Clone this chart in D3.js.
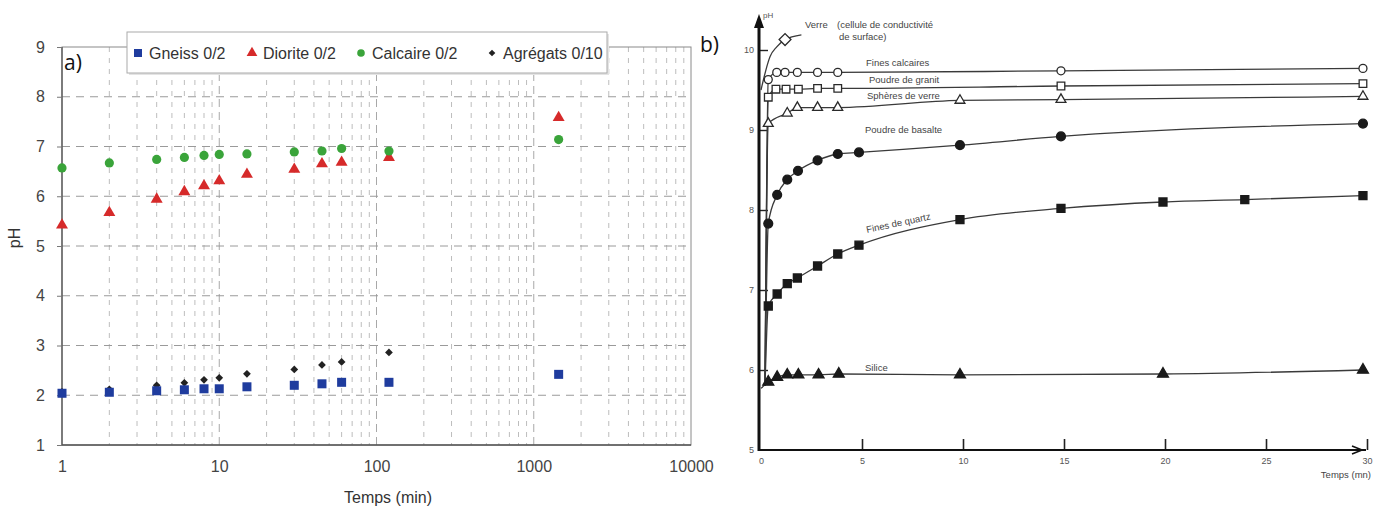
<!DOCTYPE html>
<html><head><meta charset="utf-8">
<script src="https://cdn.jsdelivr.net/npm/d3@7"></script>
<style>
body{margin:0;background:#fff;}
svg{display:block;}
</style></head>
<body>
<svg id="c" width="1381" height="510"></svg>
<script>
// ---------- Chart a) data ----------
const timesA = [1, 2, 4, 6, 8, 10, 15, 30, 45, 60, 120, 1440];
const gneiss = [2.04, 2.06, 2.09, 2.11, 2.13, 2.13, 2.17, 2.20, 2.23, 2.26, 2.26, 2.42];
const diorite = [5.42, 5.67, 5.94, 6.09, 6.21, 6.31, 6.44, 6.54, 6.65, 6.68, 6.78, 7.58];
const calcaire = [6.57, 6.67, 6.74, 6.78, 6.82, 6.84, 6.85, 6.89, 6.91, 6.96, 6.91, 7.14];
const agregats = [2.07, 2.12, 2.20, 2.25, 2.31, 2.35, 2.43, 2.52, 2.61, 2.67, 2.86, null];
const legendA = ["Gneiss 0/2", "Diorite 0/2", "Calcaire 0/2", "Agrégats 0/10"];
const xTicksA = [1, 10, 100, 1000, 10000];
const yTicksA = [1, 2, 3, 4, 5, 6, 7, 8, 9];

// ---------- Chart b) data ----------
const xTicksB = [0, 5, 10, 15, 20, 25, 30];
const yTicksB = [5, 6, 7, 8, 9, 10];
const originB = [0.2, 5.8];           // common start of the curves
const calcT = [0.36, 0.78, 1.19, 1.8, 2.8, 3.8, 14.85, 29.8];
const calcPH = [9.63, 9.72, 9.72, 9.72, 9.72, 9.72, 9.74, 9.77];
const granitT = [0.36, 0.74, 1.24, 1.85, 2.8, 3.8, 14.85, 29.8];
const granitPH = [9.41, 9.51, 9.51, 9.51, 9.52, 9.52, 9.55, 9.58];
const spheresT = [0.36, 1.3, 1.8, 2.8, 3.8, 9.85, 14.85, 29.8];
const spheresPH = [9.08, 9.21, 9.28, 9.28, 9.28, 9.37, 9.38, 9.42];
const basaltT = [0.36, 0.8, 1.3, 1.83, 2.8, 3.8, 4.85, 9.85, 14.85, 29.8];
const basaltPH = [7.83, 8.19, 8.38, 8.49, 8.62, 8.70, 8.72, 8.81, 8.92, 9.08];
const quartzT = [0.36, 0.8, 1.3, 1.8, 2.8, 3.8, 4.85, 9.85, 14.85, 19.9, 23.95, 29.8];
const quartzPH = [6.80, 6.95, 7.08, 7.15, 7.30, 7.45, 7.56, 7.88, 8.02, 8.10, 8.13, 8.18];
const siliceStart = [0, 5.77];
const siliceT = [0.36, 0.8, 1.3, 1.85, 2.85, 3.85, 9.85, 19.9, 29.8];
const silicePH = [5.85, 5.91, 5.94, 5.94, 5.94, 5.95, 5.94, 5.95, 6.00];
const verreT = [0, 0.45, 0.78, 1.19, 2.0];
const verrePH = [9.5, 9.92, 10.04, 10.13, 10.19];
const verreMarkIdx = 3;

const svg = d3.select("#c");

// ================= Chart a) =================
const A = {l: 62, r: 691, t: 47, b: 445};
const xa = d3.scaleLog().domain([1, 10000]).range([A.l, A.r]);
const ya = d3.scaleLinear().domain([1, 9]).range([A.b, A.t]);
const ga = svg.append("g").attr("font-family", "'Liberation Sans', Arial, sans-serif");

// minor vertical grid
const minorX = xa.ticks().filter(v => !xTicksA.includes(v));
ga.append("g").selectAll("line").data(minorX).join("line")
  .attr("x1", d => xa(d)).attr("x2", d => xa(d)).attr("y1", A.t).attr("y2", A.b)
  .attr("stroke", "#bdbdbd").attr("stroke-width", 1).attr("stroke-dasharray", "5,6");
// major vertical grid
ga.append("g").selectAll("line").data(xTicksA.slice(1, -1)).join("line")
  .attr("x1", d => xa(d)).attr("x2", d => xa(d)).attr("y1", A.t).attr("y2", A.b)
  .attr("stroke", "#a8a8a8").attr("stroke-width", 1).attr("stroke-dasharray", "8,5");
// horizontal grid
ga.append("g").selectAll("line").data(yTicksA.slice(1, -1)).join("line")
  .attr("x1", A.l).attr("x2", A.r).attr("y1", d => ya(d)).attr("y2", d => ya(d))
  .attr("stroke", "#9a9a9a").attr("stroke-width", 1).attr("stroke-dasharray", "8,6");
// frame
ga.append("rect").attr("x", A.l).attr("y", A.t).attr("width", A.r - A.l).attr("height", A.b - A.t)
  .attr("fill", "none").attr("stroke", "#8a8a8a").attr("stroke-width", 1);
ga.append("line").attr("x1", A.l).attr("x2", A.l).attr("y1", A.t).attr("y2", A.b).attr("stroke", "#555").attr("stroke-width", 1.3);
ga.append("line").attr("x1", A.l).attr("x2", A.r).attr("y1", A.b).attr("y2", A.b).attr("stroke", "#555").attr("stroke-width", 1.3);

// axes labels
const axL = ga.append("g").attr("transform", `translate(${A.l},0)`)
  .call(d3.axisLeft(ya).tickValues(yTicksA).tickSize(5).tickPadding(12).tickFormat(d3.format("d")));
axL.select(".domain").remove();
axL.selectAll("line").attr("stroke", "#777");
axL.selectAll("text").attr("font-size", 16).attr("fill", "#444").attr("font-family", "'Liberation Sans', Arial, sans-serif");
const axB = ga.append("g").attr("transform", `translate(0,${A.b})`)
  .call(d3.axisBottom(xa).tickValues(xTicksA).tickSize(0).tickPadding(16).tickFormat(d3.format("d")));
axB.select(".domain").remove();
axB.selectAll("text").attr("font-size", 16).attr("fill", "#444").attr("font-family", "'Liberation Sans', Arial, sans-serif");

ga.append("text").attr("x", 388).attr("y", 503).attr("text-anchor", "middle")
  .attr("font-size", 16).attr("fill", "#333").text("Temps (min)");
ga.append("text").attr("transform", "translate(20,238) rotate(-90)").attr("text-anchor", "middle")
  .attr("font-size", 16).attr("fill", "#333").text("pH");

// markers
const colors = {g: "#1f3c9e", d: "#d62a2a", c: "#3aa43a", a: "#222"};
const ptsA = (arr) => timesA.map((t, i) => ({t, v: arr[i]})).filter(p => p.v != null);
ga.append("g").selectAll("path").data(ptsA(agregats)).join("path")
  .attr("d", d3.symbol(d3.symbolSquare, 30))
  .attr("transform", d => `translate(${xa(d.t)},${ya(d.v)}) rotate(45)`).attr("fill", colors.a);
ga.append("g").selectAll("rect").data(ptsA(gneiss)).join("rect")
  .attr("x", d => xa(d.t) - 4.5).attr("y", d => ya(d.v) - 4.5).attr("width", 9).attr("height", 9)
  .attr("fill", colors.g);
ga.append("g").selectAll("path").data(ptsA(diorite)).join("path")
  .attr("d", d3.symbol(d3.symbolTriangle, 62))
  .attr("transform", d => `translate(${xa(d.t)},${ya(d.v)})`).attr("fill", colors.d);
ga.append("g").selectAll("circle").data(ptsA(calcaire)).join("circle")
  .attr("cx", d => xa(d.t)).attr("cy", d => ya(d.v)).attr("r", 4.6).attr("fill", colors.c);

// legend
const lg = ga.append("g");
lg.append("rect").attr("x", 129).attr("y", 34).attr("width", 480).attr("height", 41).attr("fill", "#e4e4e4");
lg.append("rect").attr("x", 127).attr("y", 32).attr("width", 480).attr("height", 41)
  .attr("fill", "#fff").attr("stroke", "#aaa").attr("stroke-width", 1);
const legX = [138, 252, 361, 492];
const legY = 53;
lg.append("rect").attr("x", legX[0] - 4).attr("y", legY - 4).attr("width", 8).attr("height", 8).attr("fill", colors.g);
lg.append("path").attr("d", d3.symbol(d3.symbolTriangle, 50)).attr("transform", `translate(${legX[1]},${legY})`).attr("fill", colors.d);
lg.append("circle").attr("cx", legX[2]).attr("cy", legY).attr("r", 3.8).attr("fill", colors.c);
lg.append("path").attr("d", d3.symbol(d3.symbolSquare, 22)).attr("transform", `translate(${legX[3]},${legY}) rotate(45)`).attr("fill", colors.a);
lg.selectAll("text").data(legendA).join("text")
  .attr("x", (d, i) => legX[i] + 11).attr("y", legY + 6).attr("font-size", 16).attr("fill", "#333").text(d => d);

ga.append("text").attr("x", 64).attr("y", 70).attr("font-size", 21).attr("fill", "#111")
  .attr("font-family", "'Open Sans', 'Liberation Sans', sans-serif").text("a)");

// ================= Chart b) =================
const xb = d3.scaleLinear().domain([0, 30]).range([761, 1367]);
const yb = d3.scaleLinear().domain([5, 10]).range([450, 50]);
const gb = svg.append("g").attr("font-family", "'Liberation Sans', Arial, sans-serif");
const lineCol = "#3a3a3a";

gb.append("text").attr("x", 700).attr("y", 52).attr("font-size", 21).attr("fill", "#111")
  .attr("font-family", "'Open Sans', 'Liberation Sans', sans-serif").text("b)");

// axes
const bx = gb.append("g").attr("transform", "translate(0,450)")
  .call(d3.axisBottom(xb).tickValues(xTicksB).tickSizeInner(-11).tickSizeOuter(0).tickPadding(8).tickFormat(d3.format("d")));
bx.select(".domain").remove();
bx.selectAll("line").attr("stroke", "#222").attr("stroke-width", 1.6);
bx.selectAll(".tick").filter(d => d === 0).select("line").remove();
bx.selectAll("text").attr("font-size", 9).attr("fill", "#555").attr("font-family", "'Liberation Sans', Arial, sans-serif");
const byA = gb.append("g").attr("transform", "translate(760,0)")
  .call(d3.axisLeft(yb).tickValues(yTicksB).tickSizeInner(-8).tickSizeOuter(0).tickPadding(6).tickFormat(d3.format("d")));
byA.select(".domain").remove();
byA.selectAll("line").attr("stroke", "#222").attr("stroke-width", 1.4);
byA.selectAll(".tick").filter(d => d === 5).select("line").remove();
byA.selectAll("text").attr("font-size", 9).attr("fill", "#555").attr("font-family", "'Liberation Sans', Arial, sans-serif");

gb.append("line").attr("x1", 759).attr("x2", 759).attr("y1", 451).attr("y2", 24).attr("stroke", "#111").attr("stroke-width", 3);
gb.append("path").attr("d", "M754,28 L759,14 L764,28 Z").attr("fill", "#111");
gb.append("line").attr("x1", 758).attr("x2", 1366).attr("y1", 450).attr("y2", 450).attr("stroke", "#111").attr("stroke-width", 2.2);
gb.append("path").attr("d", "M1352,446 L1362,450 L1352,454").attr("fill", "none").attr("stroke", "#111").attr("stroke-width", 1.6);
gb.append("text").attr("x", 763).attr("y", 18).attr("font-size", 8).attr("fill", "#555").text("pH");
gb.append("text").attr("x", 1371).attr("y", 478).attr("text-anchor", "end").attr("font-size", 9.5).attr("fill", "#444").text("Temps (mn)");

const curve = d3.line().x(d => xb(d[0])).y(d => yb(d[1])).curve(d3.curveMonotoneX);
const zipB = (T, P) => T.map((t, i) => [t, P[i]]);
const series = [
  {T: calcT, P: calcPH, start: originB, mark: "ocircle"},
  {T: granitT, P: granitPH, start: originB, mark: "osquare"},
  {T: spheresT, P: spheresPH, start: originB, mark: "otri"},
  {T: basaltT, P: basaltPH, start: originB, mark: "fcircle"},
  {T: quartzT, P: quartzPH, start: originB, mark: "fsquare"},
  {T: siliceT, P: silicePH, start: siliceStart, mark: "ftri"}
];
series.forEach(s => {
  gb.append("path").attr("d", curve([s.start].concat(zipB(s.T, s.P))))
    .attr("fill", "none").attr("stroke", lineCol).attr("stroke-width", 1.3);
});
// verre curve
gb.append("path").attr("d", curve(zipB(verreT, verrePH))).attr("fill", "none").attr("stroke", lineCol).attr("stroke-width", 1.3);

series.forEach(s => {
  const pts = zipB(s.T, s.P);
  const g = gb.append("g");
  const open = s.mark[0] === "o";
  const fill = open ? "#fff" : "#1a1a1a";
  const stroke = open ? "#2a2a2a" : "#1a1a1a";
  let sym;
  if (s.mark.endsWith("circle")) sym = d3.symbol(d3.symbolCircle, open ? 50 : 62);
  else if (s.mark.endsWith("square")) sym = d3.symbol(d3.symbolSquare, open ? 58 : 64);
  else sym = d3.symbol(d3.symbolTriangle, open ? 42 : 52);
  g.selectAll("path").data(pts).join("path").attr("d", sym)
    .attr("transform", d => `translate(${xb(d[0])},${yb(d[1])})`)
    .attr("fill", fill).attr("stroke", stroke).attr("stroke-width", 1.3);
});
gb.append("path").attr("d", d3.symbol(d3.symbolSquare, 70))
  .attr("transform", `translate(${xb(verreT[verreMarkIdx])},${yb(verrePH[verreMarkIdx])}) rotate(45)`)
  .attr("fill", "#fff").attr("stroke", "#2a2a2a").attr("stroke-width", 1.3);

// curve labels
const lab = (x, y, t, rot) => gb.append("text").attr("x", x).attr("y", y).attr("font-size", 9.5).attr("fill", "#444")
  .attr("transform", rot ? `rotate(${rot},${x},${y})` : null).text(t);
lab(805, 28, "Verre");
lab(837, 28, "(cellule de conductivité");
lab(839, 40, "de surface)");
lab(866, 66, "Fines calcaires");
lab(869, 83, "Poudre de granit");
lab(867, 99, "Sphères de verre");
lab(865, 133, "Poudre de basalte");
lab(867, 233, "Fines de quartz", -12);
lab(865, 371, "Silice");
</script>
</body></html>
